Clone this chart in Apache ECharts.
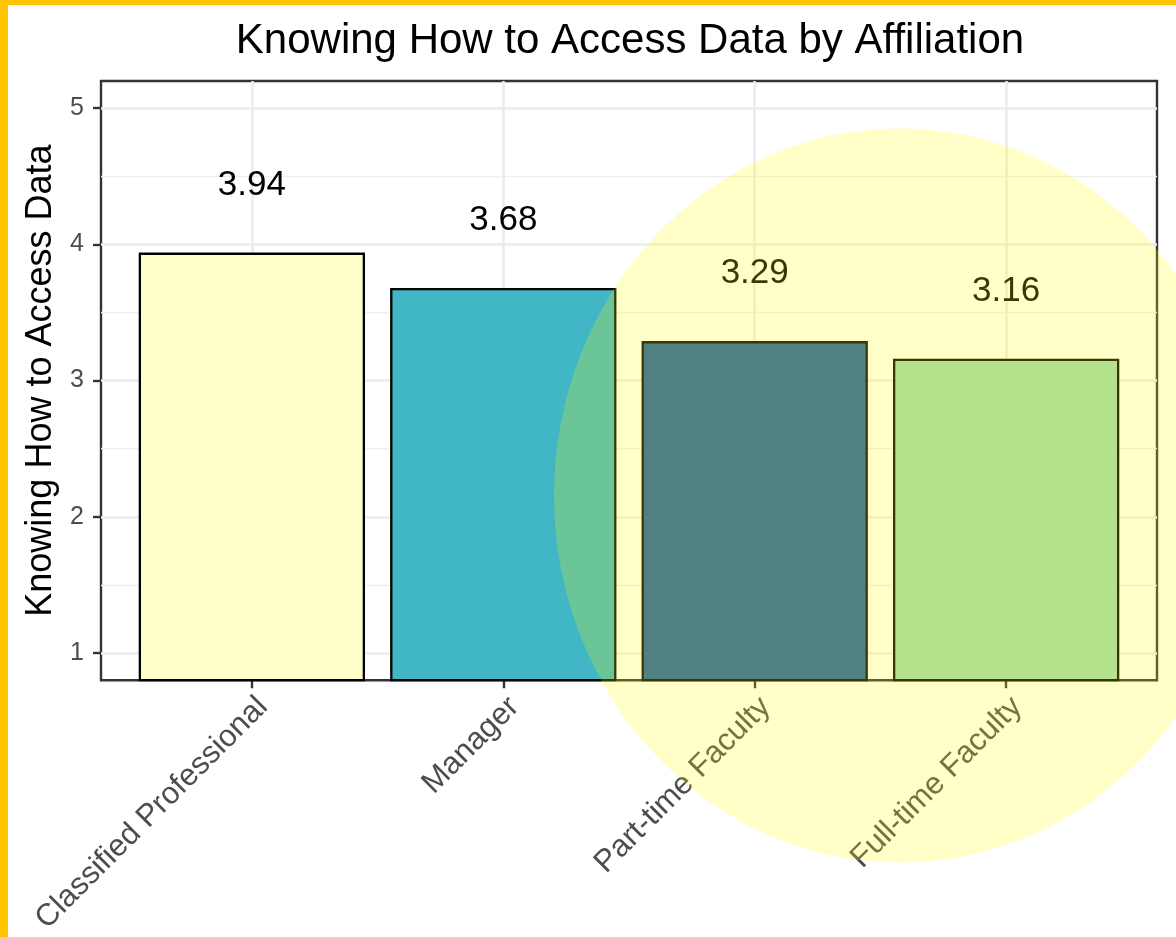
<!DOCTYPE html>
<html><head><meta charset="utf-8">
<script src="https://cdn.jsdelivr.net/npm/echarts@6/dist/echarts.min.js"></script>
<style>html,body{margin:0;padding:0;background:#fff;} #c{width:1176px;height:937px;}</style>
</head><body><div id="c"></div>
<script>
const titleText = 'Knowing How to Access Data by Affiliation';
const yTitle = 'Knowing How to Access Data';
const categories = ['Classified Professional', 'Manager', 'Part-time Faculty', 'Full-time Faculty'];
const values = [3.94, 3.68, 3.29, 3.16];
const barColors = ['#FFFFCC', '#41B6C4', '#225EA8', '#A1DAB4'];
const yTicks = [1, 2, 3, 4, 5];
const yMinorTicks = [1.5, 2.5, 3.5, 4.5];
const xPositions = categories.map((c, i) => i + 1);

const FONT = '"Liberation Sans", Arial, Helvetica, sans-serif';
const chart = echarts.init(document.getElementById('c'), null, {renderer: 'canvas'});

const barData = categories.map((c, i) => ({
  value: [xPositions[i], values[i]],
  itemStyle: {color: barColors[i]}
}));

chart.setOption({
  backgroundColor: '#ffffff',
  animation: false,
  title: {
    text: titleText,
    left: 630, top: 20, padding: 0, textAlign: 'center',
    textStyle: {fontFamily: FONT, fontSize: 42, fontWeight: 'normal', color: '#000'}
  },
  grid: {
    left: 101, top: 81, width: 1056, height: 601,
    show: true, borderColor: '#333333', borderWidth: 2.4, backgroundColor: 'transparent'
  },
  xAxis: {
    type: 'value', min: 0.4, max: 4.6,
    axisLine: {show: false},
    axisTick: {show: true, customValues: xPositions, length: 8, lineStyle: {color: '#333333', width: 2.4}},
    axisLabel: {
      customValues: xPositions, rotate: 45, margin: 11,
      align: 'right', verticalAlign: 'top',
      fontFamily: FONT, fontSize: 31, color: '#4D4D4D',
      formatter: v => categories[Math.round(v) - 1] || ''
    },
    splitLine: {show: true, lineStyle: {color: '#EBEBEB', width: 2.5}}
  },
  yAxis: [{
    type: 'value', min: 0.8, max: 5.2,
    name: yTitle, nameLocation: 'middle', nameRotate: 90, nameGap: 41,
    nameTextStyle: {fontFamily: FONT, fontSize: 36, color: '#000'},
    axisLine: {show: false},
    axisTick: {show: true, customValues: yTicks, length: 8, lineStyle: {color: '#333333', width: 2.4}},
    axisLabel: {customValues: yTicks, margin: 17, fontFamily: FONT, fontSize: 25, color: '#4D4D4D'},
    splitLine: {show: true, lineStyle: {color: '#EBEBEB', width: 2.5}}
  }, {
    type: 'value', min: 0.8, max: 5.2, position: 'left',
    axisLine: {show: false},
    axisTick: {show: false, customValues: yMinorTicks},
    axisLabel: {show: false, customValues: yMinorTicks},
    splitLine: {show: true, lineStyle: {color: '#EFEFEF', width: 1.3}}
  }],
  series: [{
    type: 'bar',
    yAxisIndex: 0,
    data: barData,
    barWidth: '90%',
    itemStyle: {borderColor: '#000000', borderWidth: 2.3},
    label: {
      show: true, position: 'top', distance: 50,
      fontFamily: FONT, fontSize: 35, color: '#000',
      formatter: p => p.value[1].toFixed(2)
    }
  }],
  graphic: [
    {type: 'circle', x: 900, y: 495.5, scaleX: 346 / 367, scaleY: 1, shape: {cx: 0, cy: 0, r: 367},
     style: {fill: 'rgba(255,255,0,0.22)'}, z: 100, silent: true},
    {type: 'rect', left: 0, top: 0, shape: {width: 1176, height: 5}, style: {fill: '#FFC300'}, z: 101, silent: true},
    {type: 'rect', left: 0, top: 0, shape: {width: 8, height: 937}, style: {fill: '#FFC300'}, z: 101, silent: true}
  ]
});
</script>
</body></html>
